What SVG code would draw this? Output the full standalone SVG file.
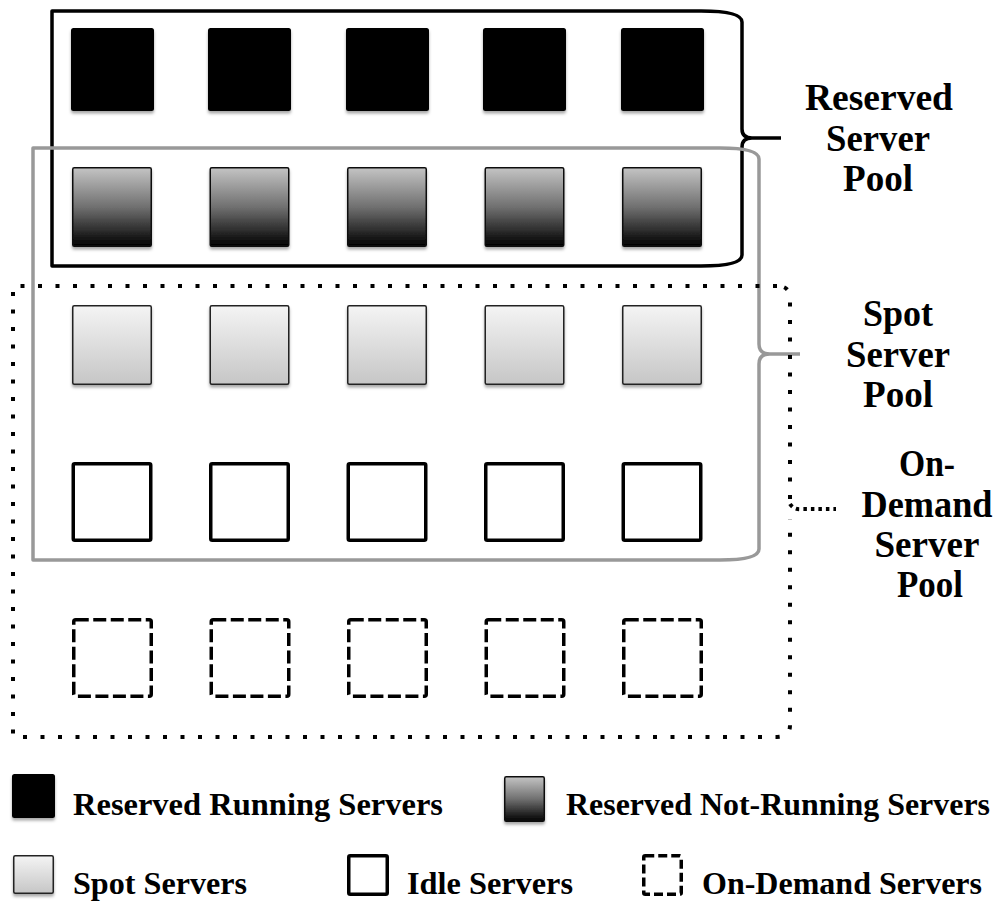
<svg xmlns="http://www.w3.org/2000/svg" width="1002" height="904" viewBox="0 0 1002 904">
<defs>
<linearGradient id="gDark" x1="0" y1="0" x2="0" y2="1">
<stop offset="0" stop-color="#c4c4c4"/>
<stop offset="0.5" stop-color="#707070"/>
<stop offset="1" stop-color="#000"/>
</linearGradient>
<linearGradient id="gLight" x1="0" y1="0" x2="0" y2="1">
<stop offset="0" stop-color="#f4f4f4"/>
<stop offset="1" stop-color="#c6c6c6"/>
</linearGradient>
<filter id="sh" x="-20%" y="-20%" width="140%" height="150%">
<feDropShadow dx="0" dy="2.5" stdDeviation="1.5" flood-color="#000" flood-opacity="0.35"/>
</filter>
<g id="sqBlack"><rect x="0" y="0" width="83" height="83" rx="2.5" fill="#000"/></g>
<g id="sqDark"><rect x="0.75" y="0.75" width="78.5" height="78.5" rx="1.5" fill="url(#gDark)" stroke="#111" stroke-width="1.5"/></g>
<g id="sqLight"><rect x="0.75" y="0.75" width="78.5" height="78.5" rx="1.5" fill="url(#gLight)" stroke="#222" stroke-width="1.5"/></g>
<g id="sqIdle"><rect x="1.75" y="1.75" width="77.5" height="76.5" rx="1.5" fill="#fff" stroke="#000" stroke-width="3.5"/></g>
<g id="sqDash"><rect x="1.75" y="1.75" width="77.5" height="76.5" rx="2" fill="none" stroke="#000" stroke-width="3.5" stroke-dasharray="13 4.5"/></g>
</defs>
<style>
.lbl{font-family:"Liberation Serif","Times New Roman",serif;font-weight:bold;font-size:37px;fill:#000}
.leg{font-family:"Liberation Serif","Times New Roman",serif;font-weight:bold;font-size:32px;fill:#000}
.mid{text-anchor:middle}
.brk{fill:none;stroke-linejoin:round}
</style>
<rect x="0" y="0" width="1002" height="904" fill="#fff"/>

<g id="connectors">
<path id="reservedBracket" class="brk" stroke="#000" stroke-width="3.5" d="M701,11 H52 V266 H701 Q742,266 742,255 V147 Q742,138 752,138 H781 M752,138 Q742,138 742,129 V22 Q742,11 701,11"/>
<path id="spotBracket" class="brk" stroke="#999" stroke-width="3.5" d="M720,148 H33 V560 H720 Q759,560 759,549 V364 Q759,354 770,354 H800 M770,354 Q759,354 759,344 V159 Q759,148 720,148"/>
<path id="onDemandBracket" class="brk" stroke="#000" stroke-width="4" stroke-dasharray="4 13.5" d="M777,286 H13 V737 H777 Q790,737 790,725 V519 M790,499 V298 Q790,286 777,286"/>
<path id="onDemandTip" class="brk" stroke="#000" stroke-width="4" stroke-dasharray="3.5 4" d="M790,504 Q794,510 802,509 H836"/>
</g>

<g id="reserved-running" filter="url(#sh)">
<use href="#sqBlack" x="71" y="28"/>
<use href="#sqBlack" x="208" y="28"/>
<use href="#sqBlack" x="346" y="28"/>
<use href="#sqBlack" x="483" y="28"/>
<use href="#sqBlack" x="621" y="28"/>
</g>
<g id="reserved-not-running" filter="url(#sh)">
<use href="#sqDark" x="72" y="167"/>
<use href="#sqDark" x="209.5" y="167"/>
<use href="#sqDark" x="347" y="167"/>
<use href="#sqDark" x="484.5" y="167"/>
<use href="#sqDark" x="622" y="167"/>
</g>
<g id="spot" filter="url(#sh)">
<use href="#sqLight" x="72" y="305"/>
<use href="#sqLight" x="209.5" y="305"/>
<use href="#sqLight" x="347" y="305"/>
<use href="#sqLight" x="484.5" y="305"/>
<use href="#sqLight" x="622" y="305"/>
</g>
<g id="idle">
<use href="#sqIdle" x="71.5" y="462"/>
<use href="#sqIdle" x="209" y="462"/>
<use href="#sqIdle" x="346.5" y="462"/>
<use href="#sqIdle" x="484" y="462"/>
<use href="#sqIdle" x="621.5" y="462"/>
</g>
<g id="on-demand">
<use href="#sqDash" x="72" y="618"/>
<use href="#sqDash" x="209.5" y="618"/>
<use href="#sqDash" x="347" y="618"/>
<use href="#sqDash" x="484.5" y="618"/>
<use href="#sqDash" x="622" y="618"/>
</g>

<g id="label-reserved-pool">
<text class="lbl mid" x="879" y="110" textLength="148" lengthAdjust="spacingAndGlyphs">Reserved</text>
<text class="lbl mid" x="878" y="151" textLength="104" lengthAdjust="spacingAndGlyphs">Server</text>
<text class="lbl mid" x="878" y="191" textLength="70" lengthAdjust="spacingAndGlyphs">Pool</text>
</g>
<g id="label-spot-pool">
<text class="lbl mid" x="898" y="326" textLength="70" lengthAdjust="spacingAndGlyphs">Spot</text>
<text class="lbl mid" x="898" y="367" textLength="104" lengthAdjust="spacingAndGlyphs">Server</text>
<text class="lbl mid" x="898" y="407" textLength="70" lengthAdjust="spacingAndGlyphs">Pool</text>
</g>
<g id="label-on-demand-pool">
<text class="lbl mid" x="927" y="476" textLength="56" lengthAdjust="spacingAndGlyphs">On-</text>
<text class="lbl mid" x="927" y="517" textLength="131" lengthAdjust="spacingAndGlyphs">Demand</text>
<text class="lbl mid" x="927" y="557" textLength="105" lengthAdjust="spacingAndGlyphs">Server</text>
<text class="lbl mid" x="930" y="597" textLength="66" lengthAdjust="spacingAndGlyphs">Pool</text>
</g>

<g id="legend">
<g id="legend-reserved-running">
<rect x="12" y="774" width="43" height="44" rx="2.5" fill="#000" filter="url(#sh)"/>
<text class="leg" x="73" y="815" textLength="370" lengthAdjust="spacingAndGlyphs">Reserved Running Servers</text>
</g>
<g id="legend-reserved-not-running">
<rect x="504.75" y="776.75" width="39.5" height="44.5" rx="1.5" fill="url(#gDark)" stroke="#111" stroke-width="1.5" filter="url(#sh)"/>
<text class="leg" x="566" y="815" textLength="424" lengthAdjust="spacingAndGlyphs">Reserved Not-Running Servers</text>
</g>
<g id="legend-spot">
<rect x="13.75" y="855.75" width="39.5" height="37.5" rx="1.5" fill="url(#gLight)" stroke="#222" stroke-width="1.5" filter="url(#sh)"/>
<text class="leg" x="73" y="894" textLength="174" lengthAdjust="spacingAndGlyphs">Spot Servers</text>
</g>
<g id="legend-idle">
<rect x="348.75" y="855.75" width="38.5" height="38.5" rx="1.5" fill="#fff" stroke="#000" stroke-width="3.5"/>
<text class="leg" x="407" y="894" textLength="166" lengthAdjust="spacingAndGlyphs">Idle Servers</text>
</g>
<g id="legend-on-demand">
<rect x="643.75" y="855.75" width="37.5" height="38.5" rx="1.5" fill="none" stroke="#000" stroke-width="3.5" stroke-dasharray="9 4"/>
<text class="leg" x="702" y="894" textLength="280" lengthAdjust="spacingAndGlyphs">On-Demand Servers</text>
</g>
</g>
</svg>
